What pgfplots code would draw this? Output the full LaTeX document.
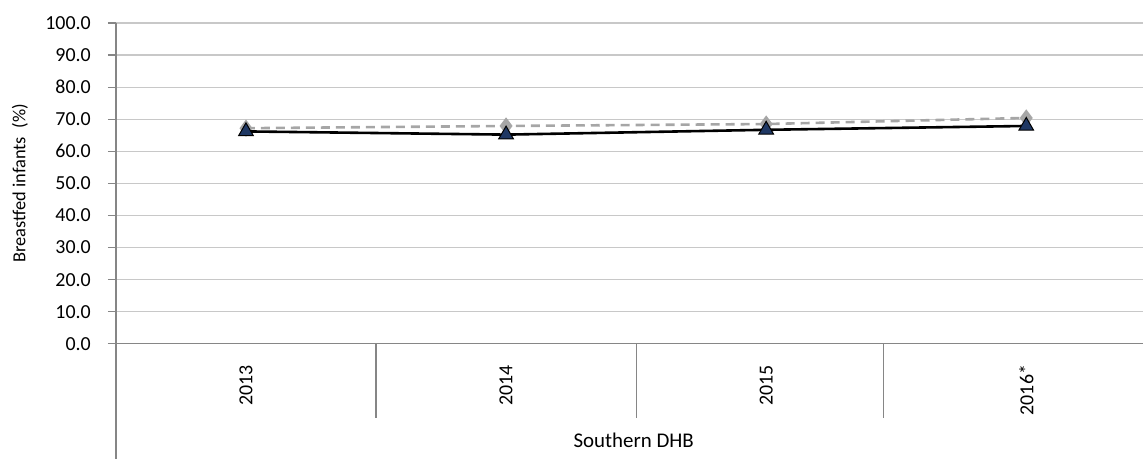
\documentclass[border=0pt]{standalone}
\usepackage{fontspec}
\setmainfont{Carlito}
\usepackage{pgfplots}
\pgfplotsset{compat=1.18}
\definecolor{gridc}{RGB}{200,200,200}
\definecolor{axisc}{RGB}{134,134,134}
\definecolor{navy}{RGB}{31,56,100}
\definecolor{grayline}{RGB}{166,166,166}
\begin{document}
\begin{tikzpicture}
\begin{axis}[
  at={(0,0)}, anchor=south west,
  scale only axis,
  width=1028bp, height=321bp,
  xmin=-0.5, xmax=3.45,
  ymin=0, ymax=100,
  ytick={0,10,...,100},
  xtick={0,1,2,3},
  xticklabels={2013,2014,2015,2016*},
  axis line style={draw=none},
  ymajorgrids,
  grid style={gridc, line width=1.2bp},
  major tick length=0pt,
  ytick style={draw=none},
  xtick style={draw=none},
  font=\fontsize{20}{23}\selectfont,
  /pgf/number format/assume math mode=true,
  yticklabel={\pgfmathprintnumber[fixed,fixed zerofill,precision=1]{\tick}},
  yticklabel style={anchor=east, inner sep=0pt, xshift=-25bp},
  xticklabel style={rotate=90, anchor=east, inner sep=0pt, xshift=-21bp},
  clip=false,
  xlabel={Southern DHB},
  xlabel style={at={(axis description cs:0.504,-0.302)}, anchor=center, inner sep=0pt, font=\fontsize{21}{24}\selectfont},
  ylabel={Breastfed infants\ \ (\%)},
  ylabel style={at={(axis description cs:-0.0934,0.5)}, rotate=0, anchor=center, inner sep=0pt, font=\fontsize{18.5}{21}\selectfont},
]
% axis decoration
\draw[axisc, line width=1.4bp] (axis cs:-0.5,100) -- (axis cs:-0.5,-35.8);
\draw[axisc, line width=1.4bp] ([xshift=-8bp]axis cs:-0.5,0) -- (axis cs:3.45,0);
\pgfplotsinvokeforeach{0,10,20,30,40,50,60,70,80,90,100}{
  \draw[axisc, line width=1.2bp] ([xshift=-8bp]axis cs:-0.5,#1) -- (axis cs:-0.5,#1);
}
\pgfplotsinvokeforeach{0.5,1.5,2.45}{
  \draw[axisc, line width=1.2bp] (axis cs:#1,0) -- (axis cs:#1,-23);
}
\addplot[grayline, line width=2.6bp, dash pattern=on 9bp off 6bp,
  mark=diamond*, mark size=6.5bp, mark options={solid, fill=grayline, draw=grayline}]
  coordinates {(0,67.2) (1,67.9) (2,68.5) (3,70.4)};
\addplot[black, line width=2.6bp,
  mark=triangle*, mark size=8.5bp, mark options={solid, fill=navy, draw=black, line width=1bp}]
  coordinates {(0,66.2) (1,65.2) (2,66.7) (3,67.9)};
\end{axis}
\useasboundingbox (-116bp,-115bp) rectangle (1028bp,344bp);
\end{tikzpicture}
\end{document}
